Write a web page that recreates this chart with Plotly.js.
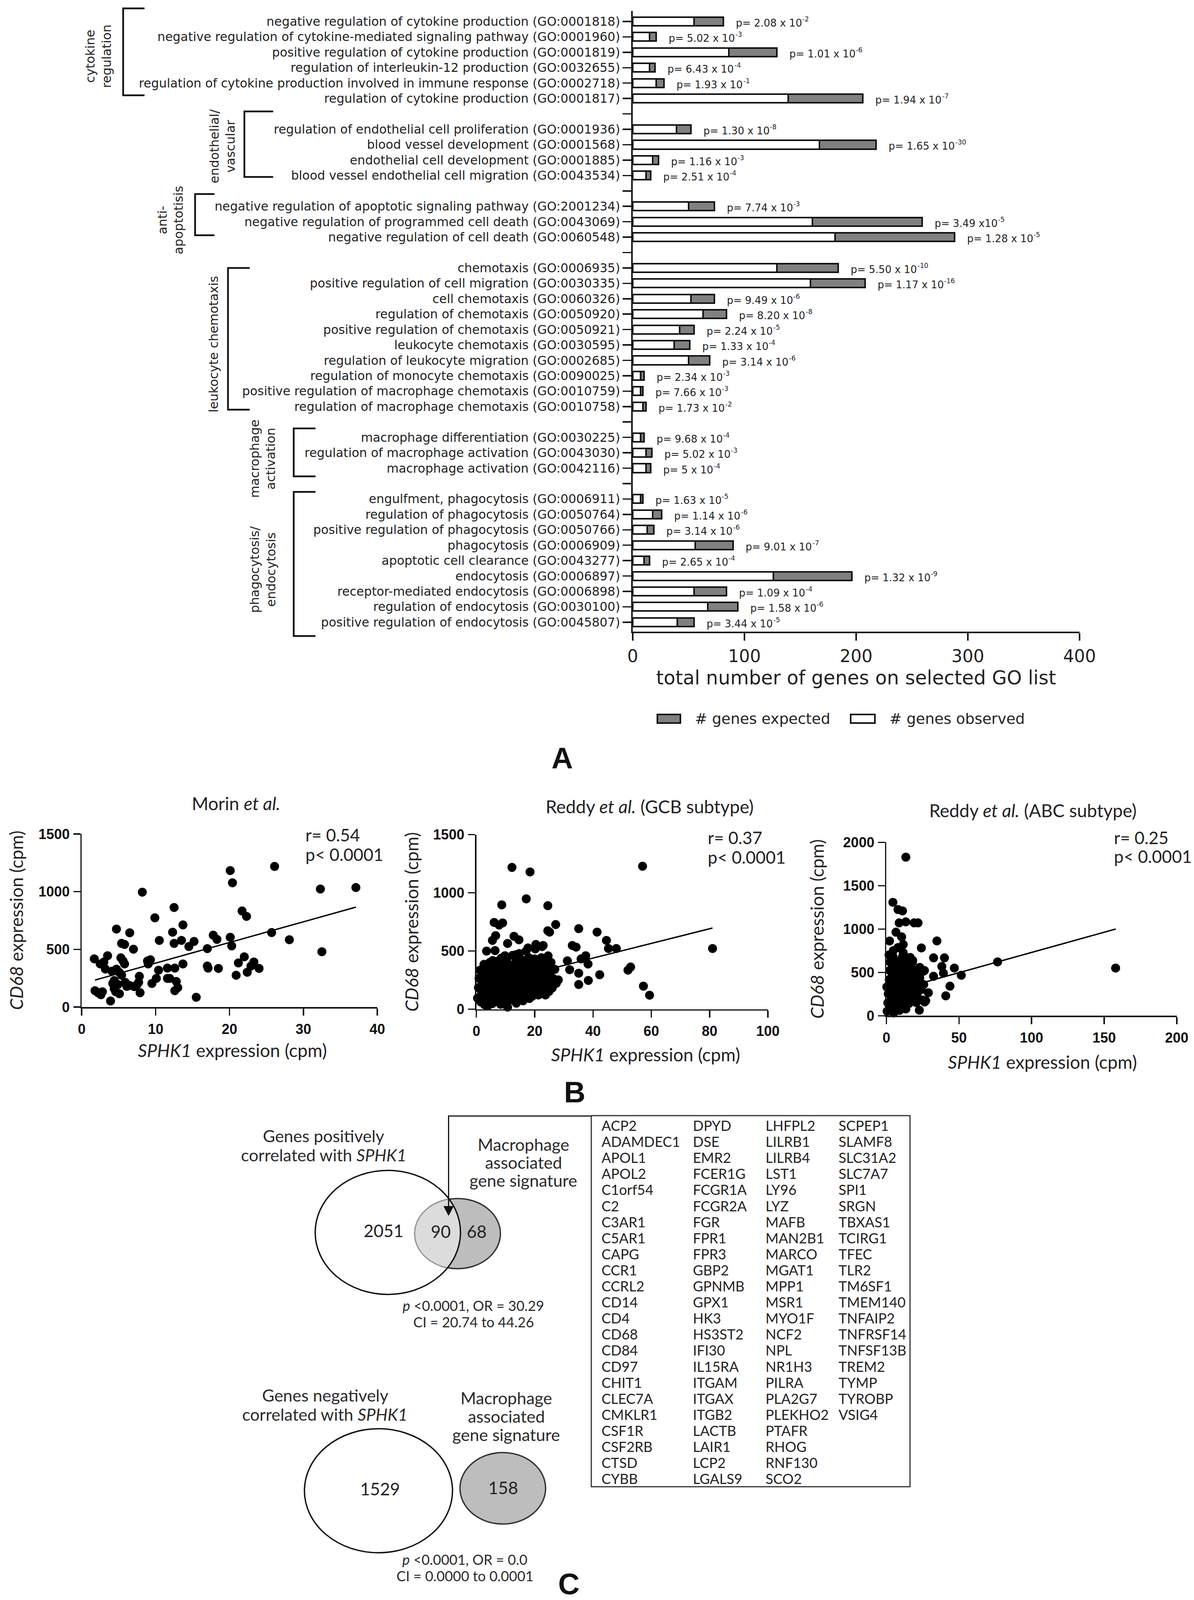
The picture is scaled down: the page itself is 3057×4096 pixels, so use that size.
<!DOCTYPE html>
<html><head><meta charset="utf-8">
<script src="https://cdn.plot.ly/plotly-3.0.1.min.js"></script>
<style>html,body{margin:0;padding:0;background:#fff;}#fig{width:3057px;height:4096px;}</style>
</head><body><div id="fig"></div>
<script>
// ---------------- Panel A data ----------------
const goGroupLabels = ['cytokine<br>regulation','endothelial/<br>vascular','anti-<br>apoptotisis','leukocyte chemotaxis','macrophage<br>activation','phagocytosis/<br>endocytosis'];
const goGroupSizes = [6,4,3,10,3,9];
const goTerms = [
 'negative regulation of cytokine production (GO:0001818)',
 'negative regulation of cytokine-mediated signaling pathway (GO:0001960)',
 'positive regulation of cytokine production (GO:0001819)',
 'regulation of interleukin-12 production (GO:0032655)',
 'regulation of cytokine production involved in immune response (GO:0002718)',
 'regulation of cytokine production (GO:0001817)',
 'regulation of endothelial cell proliferation (GO:0001936)',
 'blood vessel development (GO:0001568)',
 'endothelial cell development (GO:0001885)',
 'blood vessel endothelial cell migration (GO:0043534)',
 'negative regulation of apoptotic signaling pathway (GO:2001234)',
 'negative regulation of programmed cell death (GO:0043069)',
 'negative regulation of cell death (GO:0060548)',
 'chemotaxis (GO:0006935)',
 'positive regulation of cell migration (GO:0030335)',
 'cell chemotaxis (GO:0060326)',
 'regulation of chemotaxis (GO:0050920)',
 'positive regulation of chemotaxis (GO:0050921)',
 'leukocyte chemotaxis (GO:0030595)',
 'regulation of leukocyte migration (GO:0002685)',
 'regulation of monocyte chemotaxis (GO:0090025)',
 'positive regulation of macrophage chemotaxis (GO:0010759)',
 'regulation of macrophage chemotaxis (GO:0010758)',
 'macrophage differentiation (GO:0030225)',
 'regulation of macrophage activation (GO:0043030)',
 'macrophage activation (GO:0042116)',
 'engulfment, phagocytosis (GO:0006911)',
 'regulation of phagocytosis (GO:0050764)',
 'positive regulation of phagocytosis (GO:0050766)',
 'phagocytosis (GO:0006909)',
 'apoptotic cell clearance (GO:0043277)',
 'endocytosis (GO:0006897)',
 'receptor-mediated endocytosis (GO:0006898)',
 'regulation of endocytosis (GO:0030100)',
 'positive regulation of endocytosis (GO:0045807)'
];
const genesObserved = [55,15,86,15,21,139, 39,167,18,12, 50,161,181, 129,159,52,63,42,37,50,7,7,9, 7,12,12, 7,18,13,56,10,126,55,67,40];
const genesExpected = [26,6,43,5,7,67, 13,51,5,4, 23,98,107, 55,49,21,21,13,14,19,3,2,3, 3,5,4, 2,8,6,34,5,70,29,27,15];
const pValues = ['2.08 x 10^-2','5.02 x 10^-3','1.01 x 10^-6','6.43 x 10^-4','1.93 x 10^-1','1.94 x 10^-7',
 '1.30 x 10^-8','1.65 x 10^-30','1.16 x 10^-3','2.51 x 10^-4',
 '7.74 x 10^-3','3.49 x10^-5','1.28 x 10^-5',
 '5.50 x 10^-10','1.17 x 10^-16','9.49 x 10^-6','8.20 x 10^-8','2.24 x 10^-5','1.33 x 10^-4','3.14 x 10^-6','2.34 x 10^-3','7.66 x 10^-3','1.73 x 10^-2',
 '9.68 x 10^-4','5.02 x 10^-3','5 x 10^-4',
 '1.63 x 10^-5','1.14 x 10^-6','3.14 x 10^-6','9.01 x 10^-7','2.65 x 10^-4','1.32 x 10^-9','1.09 x 10^-4','1.58 x 10^-6','3.44 x 10^-5'];
const goXTicks = [0,100,200,300,400];

// ---------------- Panel B data ----------------
const morinX = [1.7,1.8,2.2,2.6,2.8,3.0,3.5,3.9,4.1,4.2, 4.4,4.6,4.7,4.7,4.9,5.1,5.3,5.4,5.4,5.6,
 5.8,5.8,5.9,6.5,6.5,7.0,7.1,7.7,7.8,7.9, 8.2,8.9,9.0,9.5,9.9,10.1,10.4,10.5,11.6,11.9,
 12.3,12.5,12.5,12.6,12.6,12.8,13.0,13.5,13.7,13.7, 14.5,15.2,15.5,17.0,17.0,17.1,17.8,18.3,18.5,20.1,
 20.4,20.1,20.3,20.9,21.2,21.7,22.0,22.3,22.4,22.9, 23.3,24.0,25.7,26.1,28.1,32.3,32.5,37.1,2.5,7.5,
 4.4,11.6,5.1,9.3,6.1,3.2];
const morinY = [418,142,125,107,133,391,445,53,311,205, 160,133,676,329,196,116,427,552,276,400,
 543,374,214,644,187,502,178,214,267,125, 996,400,374,205,774,249,320,578,338,249,
 649,863,552,338,142,222,169,578,712,374, 525,569,85,507,356,338,623,587,335,1183,
 1077,605,530,276,383,833,436,786,302,356, 391,335,646,1219,584,1023,480,1036,374,196,
 230,249,300,410,180,330];

const gcbX = [12.2,18.4,57.0,17.1,8.7,24.5,6.1,9.0,7.8,27.2, 24.5,25.1,35.1,41.4,6.6,12.9,14.6,5.5,10.7,20.4,
 22.9,44.6,32.9,34.2,45.3,48.0,81.0,3.5,6.4,17.7, 9.8,13.6,31.2,35.9,37.5,38.3,32.0,35.1,42.3,52.0,
 52.9,27.7,38.4,35.1,57.3,59.4,10.7,
 0.4,0.7,0.9,1.2,1.5,1.8,2.0,2.3,2.6,2.8, 3.0,3.2,3.4,3.6,3.9,4.1,4.3,4.5,4.6,4.8,
 5.0,5.1,5.3,5.5,5.6,5.8,6.0,6.1,6.3,6.6, 6.8,6.9,7.1,7.3,7.5,7.7,7.9,8.1,8.3,8.5,
 8.7,8.9,9.0,9.2,9.5,9.7,9.9,10.1,10.3,10.5, 10.8,11.0,11.2,11.4,11.6,11.8,12.0,12.2,12.4,12.6,
 12.9,13.1,13.3,13.5,13.7,13.9,14.1,14.3,14.5,14.7, 14.9,15.1,15.3,15.5,15.7,16.0,16.2,16.4,16.6,16.8,
 17.0,17.2,17.4,17.6,17.8,18.0,18.2,18.4,18.6,18.8, 19.0,19.2,19.4,19.6,19.8,20.0,20.2,20.4,20.6,20.9,
 21.1,21.3,21.6,21.8,22.1,22.3,22.5,22.7,23.0,23.2, 23.4,23.7,24.0,24.2,24.4,24.6,24.9,25.1,25.3,25.6,
 26.0,26.4,26.9,27.4,28.1];
const gcbY = [1218,1179,1228,948,896,889,745,741,723,727, 674,662,692,662,632,626,596,591,565,556,
 547,591,547,533,521,521,521,499,503,526, 459,468,415,432,459,388,339,309,296,335,
 362,247,247,212,198,120,18,
 95,185,265,335,62,142,225,298,385,38, 112,192,268,352,28,148,232,312,402,82,
 178,258,342,48,418,122,208,292,378,72, 158,242,322,412,108,198,282,362,42,438,
 152,232,312,392,88,172,252,332,422,62, 142,222,302,382,108,192,272,352,462,78,
 162,242,322,402,52,132,212,292,372,478, 98,182,262,342,422,72,152,232,312,392,
 498,118,202,282,362,442,92,172,252,332, 412,112,192,272,352,432,518,152,232,312,
 392,122,202,282,362,442,538,172,252,332, 412,122,212,292,372,458,152,232,312,402,
 182,262,342,222,252];

const abcX = [13.4,4.5,8.0,11.1,8.8,13.4,19.1,21.8,6.6,10.5, 11.6,8.0,24.1,34.8,11.6,16.4,32.5,40.0,18.0,38.2,
 46.8,76.6,157.9,24.1,25.7,39.3,51.6,32.5,23.0,25.7, 43.8,28.9,40.9,26.3,22.7,
 0.5,1.0,1.3,1.6,2.0,2.3,2.6,3.0,3.3,3.6, 3.9,4.1,4.4,4.6,5.0,5.3,5.6,5.9,6.1,6.4,
 6.7,7.0,7.4,7.7,8.0,8.4,8.7,9.1,9.4,9.7, 10.1,10.4,10.7,11.0,11.4,11.7,12.0,12.4,12.7,13.0,
 13.4,13.7,14.0,14.4,14.7,15.1,15.6,16.1,16.6,17.1, 17.6,18.1,18.6,19.1,19.6,20.1,20.6,21.1,21.6,22.1,
 23.0,24.0,25.0,0.3,1.8,3.4,26.2,27.1,2.2,4.8];
const abcY = [1829,1308,1225,1209,1071,1083,1071,1071,964,910, 822,787,782,863,727,673,668,668,621,569,
 550,621,550,526,514,491,467,455,436,360, 341,265,230,159,64,
 52,148,252,332,418,522,618,82,182,278, 382,478,582,682,32,132,228,332,428,532,
 628,102,198,302,398,502,598,62,162,258, 362,458,562,678,122,218,322,418,522,618,
 78,182,278,382,478,578,142,238,342,438, 542,638,198,302,398,502,152,248,352,448,
 558,302,182,332,702,642,522,172,862,752];

const fitSlope = [17.9, 6.3, 4.66];
const fitIntercept = [202, 187, 264];
const fitXStart = [1.8, 0.5, 0.5];
const fitXEnd = [37.1, 81, 158];
const corrR = ['0.54','0.37','0.25'];
const corrP = ['0.0001','0.0001','0.0001'];
const scatterTitles = ['Morin <i>et al.</i>','Reddy <i>et al.</i> (GCB subtype)','Reddy <i>et al.</i> (ABC subtype)'];
const xTicksB = [[0,10,20,30,40],[0,20,40,60,80,100],[0,50,100,150,200]];
const yTicksB = [[0,500,1000,1500],[0,500,1000,1500],[0,500,1000,1500,2000]];

// ---------------- Panel C data ----------------
const vennPositive = {setOnly:2051, overlap:90, macroOnly:68, stats:['<i>p</i> &lt;0.0001, OR = 30.29','CI = 20.74 to 44.26']};
const vennNegative = {setOnly:1529, macroOnly:158, stats:['<i>p</i> &lt;0.0001, OR = 0.0','CI = 0.0000 to 0.0001']};
const geneCol1 = ['ACP2','ADAMDEC1','APOL1','APOL2','C1orf54','C2','C3AR1','C5AR1','CAPG','CCR1','CCRL2','CD14','CD4','CD68','CD84','CD97','CHIT1','CLEC7A','CMKLR1','CSF1R','CSF2RB','CTSD','CYBB'];
const geneCol2 = ['DPYD','DSE','EMR2','FCER1G','FCGR1A','FCGR2A','FGR','FPR1','FPR3','GBP2','GPNMB','GPX1','HK3','HS3ST2','IFI30','IL15RA','ITGAM','ITGAX','ITGB2','LACTB','LAIR1','LCP2','LGALS9'];
const geneCol3 = ['LHFPL2','LILRB1','LILRB4','LST1','LY96','LYZ','MAFB','MAN2B1','MARCO','MGAT1','MPP1','MSR1','MYO1F','NCF2','NPL','NR1H3','PILRA','PLA2G7','PLEKHO2','PTAFR','RHOG','RNF130','SCO2'];
const geneCol4 = ['SCPEP1','SLAMF8','SLC31A2','SLC7A7','SPI1','SRGN','TBXAS1','TCIRG1','TFEC','TLR2','TM6SF1','TMEM140','TNFAIP2','TNFRSF14','TNFSF13B','TREM2','TYMP','TYROBP','VSIG4'];

// ---------------- layout helpers ----------------
const W = 3057, H = 4096;
const fx = p => p / W, fy = p => 1 - p / H;
const INK = '#111', TXT = '#222';
const FA = 'DejaVu Sans', FB = 'Lato', FT = 'Liberation Sans';

// slots for the GO axis (with a blank slot between groups)
const slotOfTerm = [], gapSlots = [];
{ let s = 0;
  goGroupSizes.forEach((n, gi) => {
    for (let i = 0; i < n; i++) { slotOfTerm.push(s); s++; }
    if (gi < goGroupSizes.length - 1) { gapSlots.push(s); s++; }
  });
}
const A_TOP = 27.8, A_BOT = 1617.3, S_MIN = -0.69, S_MAX = 39.62;
const slotPx = s => A_TOP + (s - S_MIN) / (S_MAX - S_MIN) * (A_BOT - A_TOP);

const traces = [];
traces.push({type:'bar', orientation:'h', name:'# genes observed', x:genesObserved, y:slotOfTerm, width:0.56,
  marker:{color:'#ffffff', line:{color:INK, width:4}}, xaxis:'x', yaxis:'y', hoverinfo:'skip'});
traces.push({type:'bar', orientation:'h', name:'# genes expected', x:genesExpected, y:slotOfTerm, width:0.56,
  marker:{color:'#808080', line:{color:INK, width:4}}, xaxis:'x', yaxis:'y', hoverinfo:'skip'});

const scat = [[morinX, morinY],[gcbX, gcbY],[abcX, abcY]];
scat.forEach((d, i) => {
  const ax = i + 2;
  traces.push({type:'scatter', mode:'markers', x:d[0], y:d[1], xaxis:'x'+ax, yaxis:'y'+ax, cliponaxis:false,
    marker:{size:23, color:'#000'}, hoverinfo:'skip'});
  const xs = [fitXStart[i], fitXEnd[i]];
  traces.push({type:'scatter', mode:'lines', x:xs, y:xs.map(v => fitIntercept[i] + fitSlope[i]*v),
    xaxis:'x'+ax, yaxis:'y'+ax, cliponaxis:false, line:{color:'#000', width:3.5}, hoverinfo:'skip'});
});
traces.push({type:'scatter', mode:'markers', x:[0], y:[0], xaxis:'x5', yaxis:'y5', marker:{opacity:0}, hoverinfo:'skip'});

const layout = {
  width:W, height:H, margin:{l:0,r:0,t:0,b:0}, paper_bgcolor:'#fff', plot_bgcolor:'rgba(0,0,0,0)',
  showlegend:false, barmode:'stack', hovermode:false, font:{family:FA, color:TXT},
  xaxis:{domain:[fx(1620), fx(2764)], range:[0,400], anchor:'y', tickvals:goXTicks, showline:true, linewidth:4, linecolor:INK,
    ticks:'outside', ticklen:19, tickwidth:4, tickcolor:INK, showgrid:false, zeroline:false, ticklabelstandoff:2,
    tickfont:{family:FA, size:44, color:TXT}},
  yaxis:{domain:[fy(A_BOT), fy(A_TOP)], range:[S_MAX, S_MIN], anchor:'x', tickvals:slotOfTerm, ticktext:goTerms,
    showline:true, linewidth:4, linecolor:INK, ticks:'outside', ticklen:22, tickwidth:3.5, tickcolor:INK,
    minor:{tickmode:'array', tickvals:gapSlots, ticks:'outside', ticklen:22, tickwidth:3.5, tickcolor:INK, showgrid:false},
    showgrid:false, zeroline:false, tickfont:{family:FA, size:31.5, color:TXT}},
  xaxis5:{domain:[0,1], range:[0,W], anchor:'y5', visible:false, fixedrange:true},
  yaxis5:{domain:[0,1], range:[H,0], anchor:'x5', visible:false, fixedrange:true},
  shapes:[], annotations:[]
};

// scatter panel boxes (pixel positions on page)
const bBox = [
  {x0:209.2, x1:966.0, yb:2578.2, yt:2135.0, xr:[0,40], yr:[0,1500]},
  {x0:1219.7, x1:1966.1, yb:2583.5, yt:2136.5, xr:[0,100], yr:[0,1500]},
  {x0:2269.4, x1:3012.8, yb:2600.3, yt:2156.4, xr:[0,200], yr:[0,2000]}
];
bBox.forEach((b, i) => {
  const ax = i + 2;
  const common = {showline:true, linewidth:3.5, linecolor:INK, ticks:'outside', ticklen:18, tickwidth:3.5, tickcolor:INK,
    showgrid:false, zeroline:false, tickfont:{family:FT, size:36, color:'#111', weight:'bold'}};
  layout['xaxis'+ax] = Object.assign({domain:[fx(b.x0), fx(b.x1)], range:b.xr, anchor:'y'+ax, tickvals:xTicksB[i], ticklabelstandoff:4}, common);
  layout['yaxis'+ax] = Object.assign({domain:[fy(b.yb), fy(b.yt)], range:b.yr, anchor:'x'+ax, tickvals:yTicksB[i], ticklabelstandoff:2}, common);
});

const ann = (x, y, text, o) => layout.annotations.push(Object.assign({xref:'x5', yref:'y5', x:x, y:y, text:text, showarrow:false,
  xanchor:'center', yanchor:'middle', font:{family:FB, size:44, color:TXT}}, o || {}));
const rect = (x0, y0, x1, y1, o) => layout.shapes.push(Object.assign({type:'rect', xref:'x5', yref:'y5', x0:x0, y0:y0, x1:x1, y1:y1,
  line:{color:INK, width:4}}, o || {}));
const path = (d, o) => layout.shapes.push(Object.assign({type:'path', xref:'x5', yref:'y5', path:d, line:{color:INK, width:4}}, o || {}));

// ---- Panel A extras ----
// p-values next to bars (exponent drawn as its own raised, smaller text)
const P_SIZE = 26, P_EXP = 17;
const meas = document.createElement('canvas').getContext('2d');
meas.font = P_SIZE + 'px "DejaVu Sans"';
goTerms.forEach((t, i) => {
  const parts = pValues[i].split('^');
  const base = 'p= ' + parts[0];
  const xv = genesObserved[i] + genesExpected[i];
  layout.annotations.push({xref:'x', yref:'y', x:xv, y:slotOfTerm[i], text:base, showarrow:false,
    xanchor:'left', yanchor:'middle', xshift:30, yshift:-4, font:{family:FA, size:P_SIZE, color:TXT}});
  layout.annotations.push({xref:'x', yref:'y', x:xv, y:slotOfTerm[i], text:parts[1], showarrow:false,
    xanchor:'left', yanchor:'middle', xshift:30 + meas.measureText(base).width + 1, yshift:6, font:{family:FA, size:P_EXP, color:TXT}});
});
// group brackets and labels
const bracketX = [315.3, 625.7, 499.5, 583.7, 752, 752];
const bracketEndX = [370, 699.4, 549, 639.4, 807.7, 807.7];
const bracketTopSlot = [-0.85, 5.84, 11.2, 16.0, 26.42, 30.54];
const bracketBotSlot = [4.79, 10.09, 13.88, 25.2, 29.53, 39.9];
const groupLabelX = [252.8, 570, 436.5, 547, 673, 673];
const groupLabelSlot = [2.24, 8.1, 12.9, 20.95, 28.39, 35.58];
goGroupLabels.forEach((g, i) => {
  const yt = slotPx(bracketTopSlot[i]), yb = slotPx(bracketBotSlot[i]);
  path(`M ${bracketEndX[i]},${yt} H ${bracketX[i]} V ${yb} H ${bracketEndX[i]}`, {line:{color:INK, width:4.5}});
  ann(groupLabelX[i], slotPx(groupLabelSlot[i]), g, {textangle:-90, font:{family:FA, size:32, color:TXT}});
});
// x-axis title & legend
ann(2192, 1735, 'total number of genes on selected GO list', {font:{family:FA, size:49, color:TXT}});
rect(1683, 1829, 1742, 1851, {fillcolor:'#808080'});
ann(1777, 1840, '# genes expected', {xanchor:'left', font:{family:FA, size:38, color:TXT}});
rect(2178, 1829, 2240, 1851, {fillcolor:'#ffffff'});
ann(2275, 1840, '# genes observed', {xanchor:'left', font:{family:FA, size:38, color:TXT}});
ann(1439, 1940, 'A', {font:{family:FT, size:76, color:'#111', weight:'bold'}});

// ---- Panel B extras ----
const titlePos = [[604.6, 2056],[1663.5, 2064],[2644.5, 2074]];
const rpPos = [[779.7, 2136.5, 2186.5],[1809.6, 2144.4, 2194.3],[2850.2, 2144.4, 2191.7]];
const yTitleX = [42, 1052.7, 2091.5];
const xTitlePos = [[594.5, 2688],[1653.4, 2699],[2669, 2718]];
bBox.forEach((b, i) => {
  ann(titlePos[i][0], titlePos[i][1], scatterTitles[i], {font:{family:FB, size:46, color:TXT}});
  ann(rpPos[i][0], rpPos[i][1], 'r= ' + corrR[i], {xanchor:'left', font:{family:FB, size:44, color:TXT}});
  ann(rpPos[i][0], rpPos[i][2], 'p&lt; ' + corrP[i], {xanchor:'left', font:{family:FB, size:44, color:TXT}});
  ann(yTitleX[i], (b.yb + b.yt) / 2, '<i>CD68</i> expression (cpm)', {textangle:-90, font:{family:FB, size:46, color:TXT}});
  ann(xTitlePos[i][0], xTitlePos[i][1], '<i>SPHK1</i> expression (cpm)', {font:{family:FB, size:46, color:TXT}});
});
ann(1471, 2795, 'B', {font:{family:FT, size:76, color:'#111', weight:'bold'}});

// ---- Panel C ----
function ellipse(cx, cy, rx, ry, o) {
  layout.shapes.push(Object.assign({type:'circle', xref:'x5', yref:'y5', x0:cx-rx, x1:cx+rx, y0:cy-ry, y1:cy+ry,
    line:{color:'#222', width:3.5}, fillcolor:'rgba(0,0,0,0)'}, o || {}));
}
function lensPath(a, b) {
  const inside = (p, e) => ((p[0]-e[0])/e[2])**2 + ((p[1]-e[1])/e[3])**2 <= 1;
  const pts = [];
  for (let k = 0; k < 720; k++) {
    const t = k / 720 * 2 * Math.PI;
    const pa = [a[0] + a[2]*Math.cos(t), a[1] + a[3]*Math.sin(t)];
    const pb = [b[0] + b[2]*Math.cos(t), b[1] + b[3]*Math.sin(t)];
    if (inside(pa, b)) pts.push(pa);
    if (inside(pb, a)) pts.push(pb);
  }
  const mx = pts.reduce((s, p) => s + p[0], 0) / pts.length, my = pts.reduce((s, p) => s + p[1], 0) / pts.length;
  pts.sort((p, q) => Math.atan2(p[1]-my, p[0]-mx) - Math.atan2(q[1]-my, q[0]-mx));
  return 'M ' + pts.map(p => p[0].toFixed(1) + ',' + p[1].toFixed(1)).join(' L ') + ' Z';
}
const posBig = [993, 3155, 186, 158.7], posSmall = [1171.6, 3158, 109.6, 89.8];
const negBig = [969, 3816.3, 189.6, 158.7], negSmall = [1287.3, 3810, 109.6, 91.5];
ellipse(posSmall[0], posSmall[1], posSmall[2], posSmall[3], {fillcolor:'#bdbdbd', line:{color:'#333', width:3.5}});
path(lensPath(posBig, posSmall), {fillcolor:'#dcdcdc', line:{color:'#9a9a9a', width:2.5}});
ellipse(posBig[0], posBig[1], posBig[2], posBig[3], {line:{color:'#111', width:3.5}});
ellipse(negBig[0], negBig[1], negBig[2], negBig[3], {line:{color:'#111', width:3.5}});
ellipse(negSmall[0], negSmall[1], negSmall[2], negSmall[3], {fillcolor:'#bdbdbd', line:{color:'#333', width:3.5}});

const CT = '#2a2a2a';
ann(828.5, 2907.5, 'Genes positively', {font:{family:FB, size:43, color:CT}});
ann(828.5, 2956, 'correlated with <i>SPHK1</i>', {font:{family:FB, size:43, color:CT}});
['Macrophage','associated','gene signature'].forEach((t, k) => ann(1340, 2929 + 46*k, t, {font:{family:FB, size:43, color:CT}}));
ann(982, 3149.7, String(vennPositive.setOnly), {font:{family:FB, size:44, color:'#222'}});
ann(1128, 3152, String(vennPositive.overlap), {font:{family:FB, size:44, color:'#222'}});
ann(1220.8, 3152, String(vennPositive.macroOnly), {font:{family:FB, size:44, color:'#222'}});
ann(1212, 3341.6, vennPositive.stats[0], {font:{family:FB, size:36, color:CT}});
ann(1212, 3383.8, vennPositive.stats[1], {font:{family:FB, size:36, color:CT}});

ann(832, 3571.5, 'Genes negatively', {font:{family:FB, size:43, color:CT}});
ann(832, 3620, 'correlated with <i>SPHK1</i>', {font:{family:FB, size:43, color:CT}});
['Macrophage','associated','gene signature'].forEach((t, k) => ann(1296, 3578 + 47*k, t, {font:{family:FB, size:43, color:CT}}));
ann(973, 3810.5, String(vennNegative.setOnly), {font:{family:FB, size:44, color:'#222'}});
ann(1288.8, 3808, String(vennNegative.macroOnly), {font:{family:FB, size:44, color:'#222'}});
ann(1190, 3991.7, vennNegative.stats[0], {font:{family:FB, size:36, color:CT}});
ann(1190, 4033.5, vennNegative.stats[1], {font:{family:FB, size:36, color:CT}});

// connector arrow from gene table into the overlap
path('M 1513.9,2857 H 1148.5 V 3092', {line:{color:'#111', width:3}});
path('M 1136,3088 L 1161,3088 L 1148.5,3112 Z', {fillcolor:'#111', line:{color:'#111', width:1}});
// gene table
rect(1513.9, 2856, 2329.9, 3806, {line:{color:'#333', width:3}});
const colX = [1538.2, 1771.8, 1957.8, 2144.7];
[geneCol1, geneCol2, geneCol3, geneCol4].forEach((col, c) => {
  col.forEach((g, r) => ann(colX[c], 2881 + 41.1*r, g, {xanchor:'left', font:{family:FB, size:36, color:'#222'}}));
});
ann(1456.7, 4054, 'C', {font:{family:FT, size:76, color:'#111', weight:'bold'}});

Plotly.newPlot('fig', traces, layout, {staticPlot:true, displayModeBar:false});
</script></body></html>
